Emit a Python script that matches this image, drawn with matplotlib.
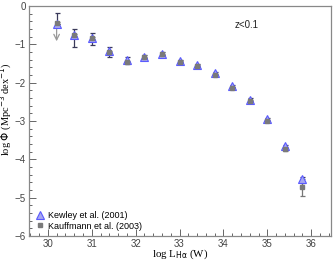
import matplotlib
matplotlib.use("Agg")
import matplotlib.pyplot as plt
from matplotlib.ticker import MultipleLocator

plt.rcParams["font.family"] = ["Liberation Sans", "DejaVu Sans"]

# log L_Halpha bins (W)
log_l = [30.2, 30.6, 31.0, 31.4, 31.8, 32.2, 32.6, 33.0, 33.4, 33.8, 34.2, 34.6, 35.0, 35.4, 35.8]

# Kewley et al. (2001)
kewley = [-0.47, -0.76, -0.84, -1.17, -1.41, -1.32, -1.24, -1.44, -1.54, -1.76, -2.09, -2.44, -2.96, -3.66, -4.51]
kewley_hi = [0.30, 0.15, 0.13, 0.09, 0.08, 0.03, 0.03, 0.03, 0.03, 0.03, 0.03, 0.03, 0.03, 0.03, 0.04]
kewley_lo = [0.00, 0.32, 0.19, 0.17, 0.11, 0.03, 0.03, 0.03, 0.03, 0.03, 0.03, 0.03, 0.04, 0.04, 0.12]

# Kauffmann et al. (2003)
kauff = [-0.45, -0.76, -0.84, -1.19, -1.45, -1.34, -1.26, -1.46, -1.57, -1.79, -2.13, -2.48, -3.00, -3.74, -4.73]
kauff_err = [0.02, 0.02, 0.02, 0.02, 0.02, 0.02, 0.02, 0.02, 0.02, 0.02, 0.02, 0.03, 0.03, 0.05, 0.22]

# upper limit on the first bin
limit_x = [30.2]
limit_top = [-0.47]
limit_bottom = [-0.92]

fig = plt.figure(figsize=(3.34, 2.61), dpi=100)
ax = fig.add_axes([0.088, 0.096, 0.903, 0.881])

ax.errorbar(log_l, kauff, yerr=kauff_err, fmt="none", ecolor="#777777",
            elinewidth=0.9, capsize=1.8, capthick=0.9, zorder=2)
ax.errorbar(log_l, kewley, yerr=[kewley_lo, kewley_hi], fmt="none", ecolor="#3a3a5a",
            elinewidth=0.9, capsize=1.8, capthick=0.9, zorder=2)
for x, y0, y1 in zip(limit_x, limit_top, limit_bottom):
    ax.annotate("", xy=(x, y1), xytext=(x, y0),
                arrowprops=dict(arrowstyle="->", color="#999999", lw=0.9,
                                shrinkA=0, shrinkB=0))

ax.plot(log_l, kewley, ls="none", marker="^", ms=5.8, mfc="#a8a8f0", mec="#5a5aff",
        mew=0.8, zorder=3, label="Kewley et al. (2001)")
ax.plot(log_l, kauff, ls="none", marker="s", ms=2.6, mfc="#7a7a7a", mec="#7a7a7a",
        zorder=4, label="Kauffmann et al. (2003)")

ax.set_xlim(29.58, 36.45)
ax.set_ylim(-6, 0)
ax.xaxis.set_major_locator(MultipleLocator(1))
ax.xaxis.set_minor_locator(MultipleLocator(0.2))
ax.yaxis.set_major_locator(MultipleLocator(1))
ax.yaxis.set_minor_locator(MultipleLocator(0.2))
ax.tick_params(which="both", direction="in", top=False, right=False,
               colors="#666666", labelcolor="#444444", labelsize=7, width=0.7)
ax.tick_params(which="major", length=5, pad=2.5)
ax.tick_params(which="minor", length=2.5)
for s in ax.spines.values():
    s.set_color("#888888")
    s.set_linewidth(0.9)

ax.set_xlabel(r"log L$_{\mathrm{H\alpha}}$ (W)", family="Liberation Serif", fontsize=7.8)
ax.xaxis.set_label_coords(0.5, -0.052, transform=ax.transAxes)
ax.xaxis.label.set_va("top")
ax.set_ylabel(r"log $\Phi$ (Mpc$^{-3}$ dex$^{-1}$)", family="Liberation Serif", fontsize=7.5)
ax.yaxis.set_label_coords(-0.05, 0.55)
ax.text(34.25, -0.5, "z<0.1", fontsize=7, color="#222222", va="center")

ax.legend(loc="lower left", frameon=False, fontsize=6.5, handletextpad=0.3,
          borderpad=0.1, labelspacing=0.2, handlelength=1.2, borderaxespad=0.5)

fig.savefig("out.png", dpi=100)
